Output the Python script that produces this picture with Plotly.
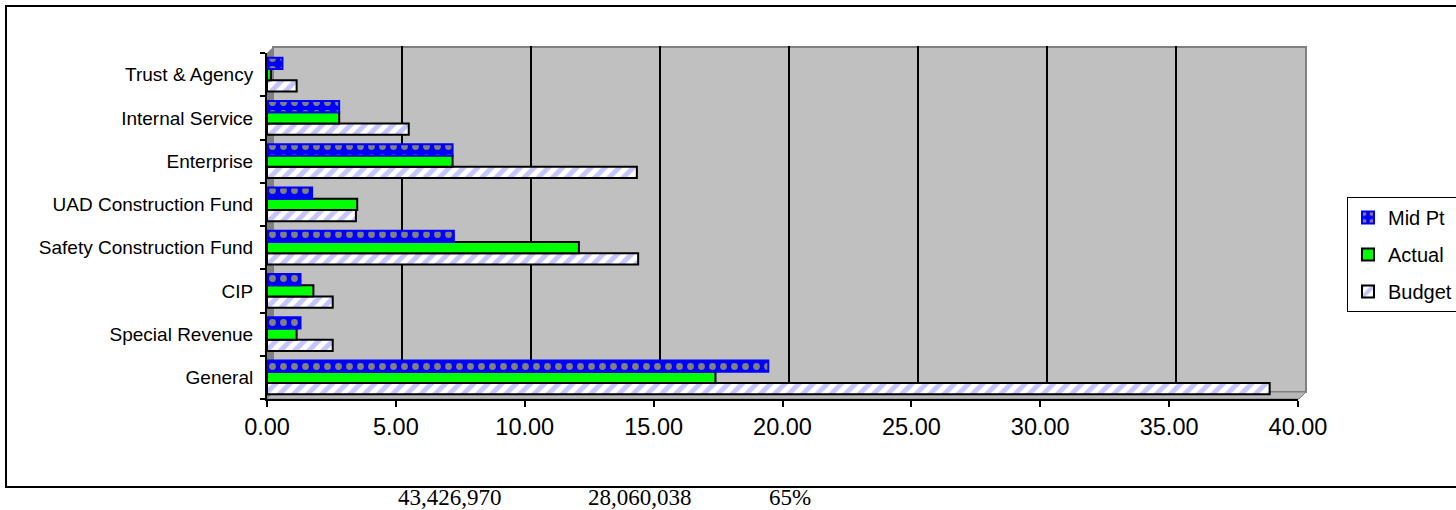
import plotly.graph_objects as go

# Fund categories, listed bottom to top
categories = [
    "General",
    "Special Revenue",
    "CIP",
    "Safety Construction Fund",
    "UAD Construction Fund",
    "Enterprise",
    "Internal Service",
    "Trust & Agency",
]

# Amounts in millions
budget = [38.9, 2.55, 2.55, 14.4, 3.45, 14.35, 5.5, 1.15]
actual = [17.4, 1.15, 1.8, 12.1, 3.5, 7.2, 2.8, 0.15]
mid_pt = [19.45, 1.3, 1.3, 7.25, 1.75, 7.2, 2.8, 0.6]

x_ticks = [0, 5, 10, 15, 20, 25, 30, 35, 40]
grid_ticks = [5, 10, 15, 20, 25, 30, 35]

footer_texts = ["43,426,970", "28,060,038", "65%"]

W, H = 1456, 510
L, R, T, B = 267, 151, 46, 111
PW, PH = W - L - R, H - T - B  # paper size in px


def px(x):
    return (x - L) / PW


def py(y):
    return (H - B - y) / PH


fig = go.Figure()

# empty trace so the back-wall subplot (x/y) is laid out
fig.add_trace(go.Scatter(x=[], y=[], xaxis="x", yaxis="y", showlegend=False, hoverinfo="skip"))

fig.add_trace(go.Bar(
    name="Budget", y=categories, x=budget, orientation="h",
    xaxis="x2", yaxis="y2", legendgroup="b", legendrank=3,
    marker=dict(
        color="white",
        line=dict(color="black", width=2),
        pattern=dict(shape="/", fgcolor="#8C8CF5", bgcolor="white", size=10, solidity=0.5),
    ),
))
fig.add_trace(go.Bar(
    name="Actual", y=categories, x=actual, orientation="h",
    xaxis="x2", yaxis="y2", legendgroup="a", legendrank=2,
    marker=dict(color="#00FF00", line=dict(color="black", width=2)),
))
fig.add_trace(go.Bar(
    name="Mid Pt", y=categories, x=mid_pt, orientation="h",
    xaxis="x2", yaxis="y2", legendgroup="m", legendrank=1,
    marker=dict(
        color="#0000FF",
        line=dict(color="#0000FF", width=2),
        pattern=dict(shape=".", fgcolor="#FFFF00", bgcolor="#0000FF", size=11, solidity=0.3),
    ),
))

shapes = [
    # back wall
    dict(type="rect", xref="paper", yref="paper", layer="below",
         x0=px(273), x1=px(1306), y0=py(392), y1=py(47),
         fillcolor="#C0C0C0", line=dict(color="#808080", width=2)),
    # left side wall
    dict(type="path", xref="paper", yref="paper", layer="below",
         path=f"M {px(267)},{py(53)} L {px(273)},{py(47)} L {px(273)},{py(392)} L {px(267)},{py(399)} Z",
         fillcolor="#808080", line=dict(width=0)),
    # floor
    dict(type="path", xref="paper", yref="paper", layer="below",
         path=f"M {px(267)},{py(399)} L {px(273)},{py(392)} L {px(1306)},{py(392)} L {px(1299)},{py(399)} Z",
         fillcolor="#B8B8B8", line=dict(color="#808080", width=1)),
    # outer chart frame
    dict(type="rect", xref="paper", yref="paper", layer="above",
         x0=px(6), x1=px(1475), y0=py(487), y1=py(6),
         line=dict(color="black", width=2)),
]

annotations = []
for txt, cx in zip(footer_texts, [450, 640, 790]):
    annotations.append(dict(
        text=txt, xref="paper", yref="paper", x=px(cx), y=py(497),
        xanchor="center", yanchor="middle", showarrow=False,
        font=dict(family="Liberation Serif", size=23, color="black"),
    ))

fig.update_layout(
    width=W, height=H,
    margin=dict(l=L, r=R, t=T, b=B, pad=0, autoexpand=False),
    paper_bgcolor="white",
    plot_bgcolor="rgba(0,0,0,0)",
    barmode="group",
    bargap=0.22,
    bargroupgap=0,
    font=dict(family="Liberation Sans, Arial", color="black"),
    # back wall axes carrying the gridlines
    xaxis=dict(domain=[6 / PW, 1], range=[0, 40], anchor="y",
               tickvals=grid_ticks, showticklabels=False, ticks="",
               showgrid=True, gridcolor="black", gridwidth=2,
               zeroline=False, showline=False, fixedrange=True),
    yaxis=dict(domain=[7 / PH, 1], range=[0, 1], anchor="x",
               showticklabels=False, ticks="", showgrid=False,
               zeroline=False, showline=False, fixedrange=True),
    # front axes carrying the bars
    xaxis2=dict(domain=[0, 1031 / PW], range=[0, 40], anchor="y2",
                tickvals=x_ticks, tickformat=".2f",
                ticks="outside", ticklen=6, tickwidth=2, tickcolor="black",
                tickfont=dict(size=23.5, family="Liberation Sans, Arial"),
                showgrid=False, zeroline=False, automargin=False,
                showline=True, linecolor="black", linewidth=2),
    yaxis2=dict(domain=[0, 346 / PH], anchor="x2",
                type="category", categoryorder="array", categoryarray=categories,
                tickson="boundaries", ticks="outside", ticklen=5, tickwidth=2,
                tickcolor="black", ticklabelstandoff=8, automargin=False,
                tickfont=dict(size=19, family="Liberation Sans, Arial"),
                showgrid=False, zeroline=False,
                showline=True, linecolor="black", linewidth=2),
    legend=dict(
        xref="container", yref="container",
        x=1347 / W, y=1 - 197 / H, xanchor="left", yanchor="top",
        traceorder="grouped", tracegroupgap=8,
        bgcolor="white", bordercolor="black", borderwidth=1,
        font=dict(size=20, family="Liberation Sans, Arial"),
    ),
    shapes=shapes,
    annotations=annotations,
)

fig.write_html("out.html")
